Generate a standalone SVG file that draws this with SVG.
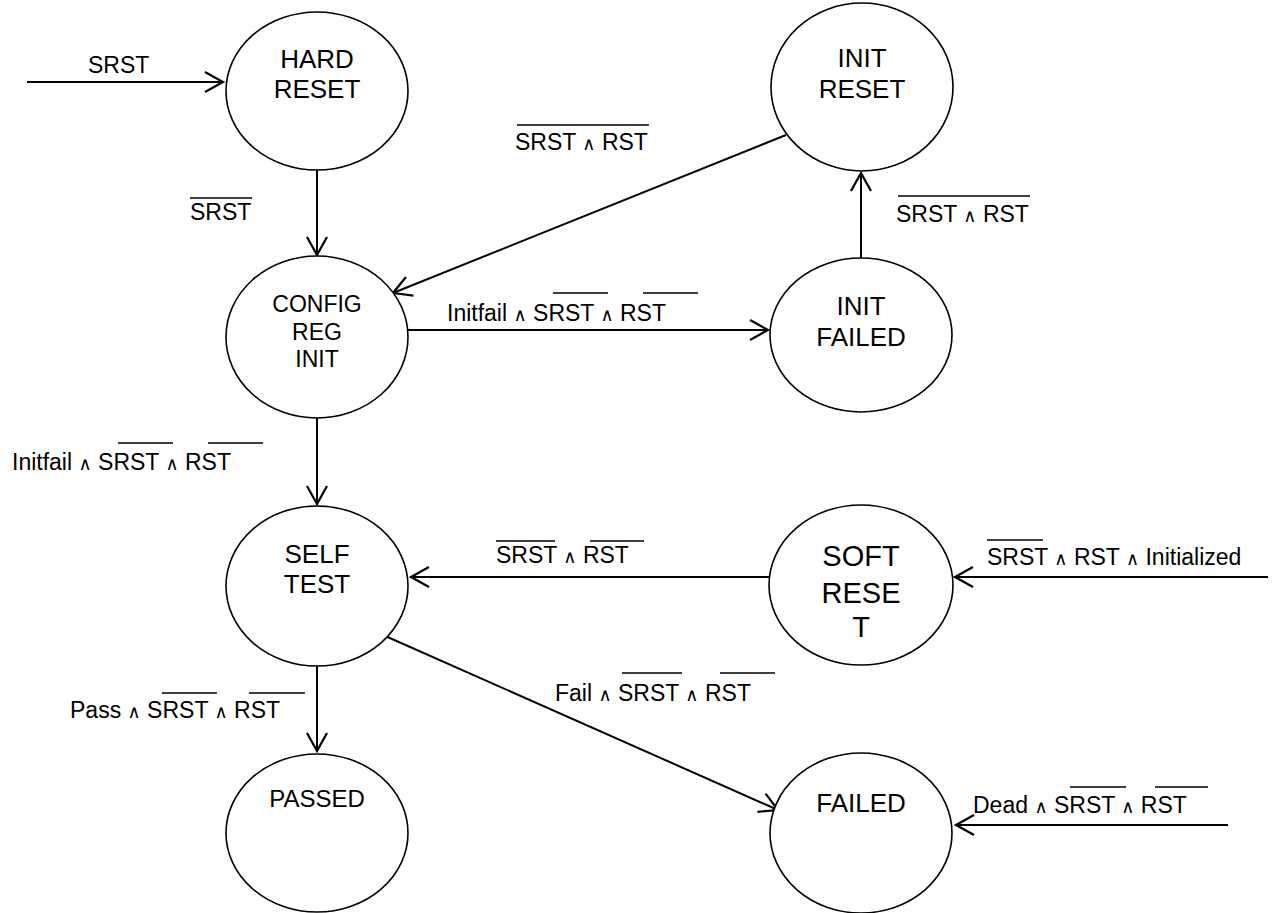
<svg xmlns="http://www.w3.org/2000/svg" width="1272" height="913" viewBox="0 0 1272 913">
<style>
.st{fill:#fff;stroke:#000;stroke-width:1.6}
.nt{font-family:"Liberation Sans",Arial,sans-serif;font-size:26px;fill:#000;text-anchor:middle}
.lb{font-family:"Liberation Sans",Arial,sans-serif;font-size:23px;fill:#000}
.and{font-family:"DejaVu Sans",sans-serif;font-size:18px}
.cn{stroke:#000;stroke-width:2;fill:none;marker-end:url(#ah)}
.ov{stroke:#000;stroke-width:1.6}
</style>
<defs>
<marker id="ah" markerUnits="userSpaceOnUse" markerWidth="24" markerHeight="24" viewBox="-20 -12 24 24" refX="0" refY="0" orient="auto">
<path d="M-18,-10 L0,0 L-18,10" fill="none" stroke="#000" stroke-width="2.2"/>
</marker>
</defs>
<rect width="1272" height="913" fill="#fff"/>
<g id="connectors">
<line class="cn" x1="27" y1="82" x2="223" y2="82"/>
<line class="cn" x1="317" y1="170" x2="317" y2="255"/>
<line class="cn" x1="786" y1="135" x2="393" y2="293"/>
<line class="cn" x1="408" y1="330" x2="768" y2="330"/>
<line class="cn" x1="861" y1="258" x2="861" y2="173"/>
<line class="cn" x1="317" y1="418" x2="317" y2="504"/>
<line class="cn" x1="769" y1="577" x2="411" y2="577"/>
<line class="cn" x1="1268" y1="577" x2="955" y2="577"/>
<line class="cn" x1="317" y1="666" x2="317" y2="751"/>
<line class="cn" x1="383" y1="635" x2="778" y2="810"/>
<line class="cn" x1="1228" y1="825" x2="956" y2="825"/>
</g>
<g id="hard-reset">
<ellipse class="st" cx="317" cy="91" rx="91" ry="79"/>
<text class="nt" x="317" y="68">HARD</text>
<text class="nt" x="317" y="98">RESET</text>
</g>
<g id="init-reset">
<ellipse class="st" cx="862" cy="87" rx="91" ry="84"/>
<text class="nt" x="862" y="67">INIT</text>
<text class="nt" x="862" y="98">RESET</text>
</g>
<g id="config-reg-init">
<ellipse class="st" cx="317" cy="337" rx="91" ry="81"/>
<text class="nt" x="317" y="312" style="font-size:23px">CONFIG</text>
<text class="nt" x="317" y="340" style="font-size:23px">REG</text>
<text class="nt" x="317" y="367" style="font-size:23px">INIT</text>
</g>
<g id="init-failed">
<ellipse class="st" cx="861" cy="335" rx="91" ry="77"/>
<text class="nt" x="861" y="315">INIT</text>
<text class="nt" x="861" y="346">FAILED</text>
</g>
<g id="self-test">
<ellipse class="st" cx="317" cy="586" rx="91" ry="80"/>
<text class="nt" x="317" y="563">SELF</text>
<text class="nt" x="317" y="593">TEST</text>
</g>
<g id="soft-reset">
<ellipse class="st" cx="861" cy="585" rx="92" ry="80"/>
<text class="nt" x="861" y="566" style="font-size:29px">SOFT</text>
<text class="nt" x="861" y="603" style="font-size:29px">RESE</text>
<text class="nt" x="861" y="637" style="font-size:29px">T</text>
</g>
<g id="passed">
<ellipse class="st" cx="317" cy="833" rx="91" ry="79"/>
<text class="nt" x="317" y="807" style="font-size:24px">PASSED</text>
</g>
<g id="failed">
<ellipse class="st" cx="861" cy="833" rx="91" ry="80"/>
<text class="nt" x="861" y="812">FAILED</text>
</g>
<g id="labels">
<text class="lb" x="88" y="73">SRST</text>
<text class="lb" x="190" y="220">SRST</text>
<line class="ov" x1="190" y1="198" x2="252" y2="198"/>
<text class="lb" x="515" y="150">SRST <tspan class="and">∧</tspan> RST</text>
<line class="ov" x1="517" y1="125" x2="649" y2="125"/>
<text class="lb" x="896" y="222">SRST <tspan class="and">∧</tspan> RST</text>
<line class="ov" x1="898" y1="196" x2="1030" y2="196"/>
<text class="lb" x="447" y="321">Initfail <tspan class="and">∧</tspan> SRST <tspan class="and">∧</tspan> RST</text>
<line class="ov" x1="553" y1="293" x2="608" y2="293"/>
<line class="ov" x1="643" y1="293" x2="698" y2="293"/>
<text class="lb" x="12" y="470">Initfail <tspan class="and">∧</tspan> SRST <tspan class="and">∧</tspan> RST</text>
<line class="ov" x1="118" y1="443" x2="173" y2="443"/>
<line class="ov" x1="208" y1="443" x2="263" y2="443"/>
<text class="lb" x="496" y="563">SRST <tspan class="and">∧</tspan> RST</text>
<line class="ov" x1="496" y1="541" x2="555" y2="541"/>
<line class="ov" x1="590" y1="541" x2="644" y2="541"/>
<text class="lb" x="987" y="565">SRST <tspan class="and">∧</tspan> RST <tspan class="and">∧</tspan> Initialized</text>
<line class="ov" x1="987" y1="540" x2="1043" y2="540"/>
<text class="lb" x="70" y="718">Pass <tspan class="and">∧</tspan> SRST <tspan class="and">∧</tspan> RST</text>
<line class="ov" x1="162" y1="693" x2="217" y2="693"/>
<line class="ov" x1="249" y1="693" x2="305" y2="693"/>
<text class="lb" x="555" y="701">Fail <tspan class="and">∧</tspan> SRST <tspan class="and">∧</tspan> RST</text>
<line class="ov" x1="622" y1="673" x2="682" y2="673"/>
<line class="ov" x1="720" y1="673" x2="775" y2="673"/>
<text class="lb" x="973" y="813">Dead <tspan class="and">∧</tspan> SRST <tspan class="and">∧</tspan> RST</text>
<line class="ov" x1="1070" y1="787" x2="1126" y2="787"/>
<line class="ov" x1="1155" y1="787" x2="1208" y2="787"/>
</g>
</svg>
